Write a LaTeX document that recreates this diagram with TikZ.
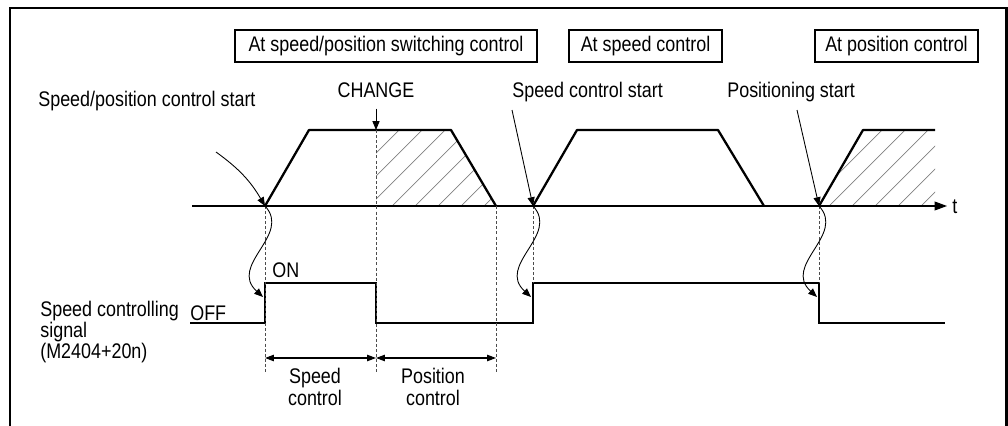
\documentclass[tikz,border=0pt]{standalone}
\usepackage{fontspec}
\setmainfont{Liberation Sans}
\usetikzlibrary{arrows.meta,calc}
\newcommand{\tightlines}{\fontsize{10.2}{9.9}\selectfont\lineskiplimit=-5pt\relax}

\begin{document}
\begin{tikzpicture}[x=0.02cm, y=-0.02cm, font=\fontsize{10.2}{10.2}\selectfont]
            \tikzset{box/.style={draw, line width=1pt, minimum height=0.54cm, inner sep=0pt, yscale=1.18},
                     lbl/.style={inner sep=0pt, yscale=1.18},
                     vel/.style={line width=1.3pt, line join=round},
                     sig/.style={line width=1.3pt},
                     hatch/.style={gray, line width=0.4pt},
                     guide/.style={black!70, line width=0.5pt, dash pattern=on 1.7pt off 1.2pt},
                     ptr/.style={line width=0.5pt, -{Triangle[length=5pt,width=4pt]}},
                     dim/.style={line width=0.6pt, {Triangle[length=5pt,width=3.6pt]}-{Triangle[length=5pt,width=3.6pt]}}}
            \useasboundingbox (0,0) rectangle (1008,426);
            \draw[line width=1.7pt] (10,426) -- (10,8) -- (1006,8) -- (1006,426);
            % modes
            \node[box, minimum width=6.04cm] (bswitch) at (386,46) {At speed/position switching control};
            \node[box, minimum width=3.06cm] (bspeed) at (645.5,46) {At speed control};
            \node[box, minimum width=3.26cm] (bpos) at (896.5,46) {At position control};
            % time points
            \coordinate (t1) at (265,206);
            \coordinate (t2) at (376,206);
            \coordinate (t3) at (496,206);
            \coordinate (t4) at (533,206);
            \coordinate (t5) at (819,206);
            \coordinate (top) at (0,130);
            \coordinate (dimy) at (0,358);
            \coordinate (low) at (0,373);
            % hatching
            \begin{scope}
                \clip (t2) -- (t2 |- top) -- (451,130) -- (t3) -- cycle;
                \foreach \x in {300,323,...,500} \draw[hatch] (\x,206) -- ++(80,-80);
            \end{scope}
            \begin{scope}
                \clip (t5) -- (863,130) -- (935,130) -- (935,206) -- cycle;
                \foreach \x in {760,783,...,940} \draw[hatch] (\x,206) -- ++(80,-80);
            \end{scope}
            % axis and speed
            \draw[line width=0.6pt, -{Triangle[length=7pt,width=5pt]}] (192,206) -- (947,206);
            \node[lbl, anchor=base west] (tlab) at (952,213) {t};
            \draw[vel] (t1) -- (309,130) -- (451,130) -- (t3);
            \draw[vel] (t4) -- (577,130) -- (718,130) -- (764,206);
            \draw[vel] (t5) -- (863,130) -- (935,130);
            % signal
            \draw[sig] (190,323) -| (265,283) -| (376,323) -| (533,283) -| (819,323) -- (945,323);
            \draw[guide] (t1) -- (t1 |- low);
            \draw[guide] (t2 |- top) -- (t2 |- low);
            \draw[guide] (t3) -- (t3 |- low);
            \draw[guide] (t4) -- (533,283);
            \draw[guide] (t5) -- (819,283);
            \draw[dim] (t1 |- dimy) -- (t2 |- dimy);
            \draw[dim] (t2 |- dimy) -- (t3 |- dimy);
            % labels
            \node[lbl, anchor=base] (chg) at (376,97) {CHANGE};
            \draw[ptr, shorten <=0.22cm] (chg.south) -- (chg |- top);
            \node[lbl, anchor=base west] (lspstart) at (38,106) {Speed/position control start};
            \node[lbl, anchor=base west] (lsstart) at (512,97) {Speed control start};
            \node[lbl, anchor=base west] (lpstart) at (727,97) {Positioning start};
            \coordinate (p1) at (216,152);
            \coordinate (p4) at (512,110);
            \coordinate (p5) at (797,110);
            \draw[ptr] (p1) to[bend left=12] (t1);
            \draw[ptr] (p4) -- (t4);
            \draw[ptr] (p5) -- (t5);
            \foreach \t in {t1,t4,t5}
                \draw[ptr] (\t) .. controls ($(\t)+(27,29)$) and ($(\t)+(-37,59)$) .. ($(\t)+(-2,91)$);
            \node[lbl, anchor=base west] (on) at (272,277) {ON};
            \node[lbl, anchor=base west] (off) at (190,320) {OFF};
            \node[lbl, anchor=base west, align=left, font=\tightlines] (lsig) at (40,358) {Speed controlling\\signal\\(M2404+20n)};
            \node[lbl, anchor=base, align=center] (lspeed) at (315,405) {Speed\\control};
            \node[lbl, anchor=base, align=center] (lposc) at (433,405) {Position\\control};
\end{tikzpicture}
\end{document}
